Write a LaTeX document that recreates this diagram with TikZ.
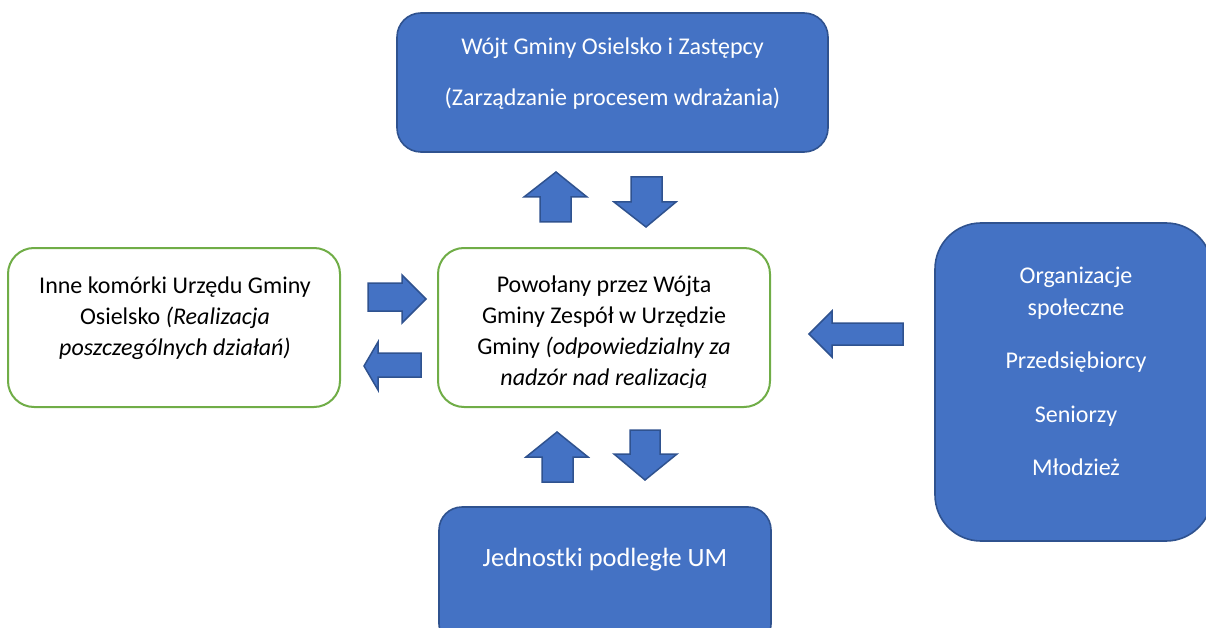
\documentclass[tikz,border=0pt]{standalone}
\usepackage{fontspec}
\setmainfont{Carlito}
\definecolor{boxblue}{HTML}{4472C4}
\definecolor{edgeblue}{HTML}{2F528F}
\definecolor{boxgreen}{HTML}{70AD47}
\begin{document}
\begin{tikzpicture}[x=1pt,y=-1pt,
  bluebox/.style={draw=edgeblue,fill=boxblue,line width=1.6pt,inner sep=0pt},
  greenbox/.style={draw=boxgreen,fill=white,line width=2pt,inner sep=0pt},
  blockarrow/.style={draw=edgeblue,fill=boxblue,line width=1.5pt,line join=miter},
  txt/.style={anchor=base,inner sep=0pt,font=\fontsize{24}{31}\selectfont},
  wtxt/.style={txt,text=white}]
\useasboundingbox (0,0) rectangle (1206,628);
\clip (0,0) rectangle (1206,628);
% boxes
\node[bluebox,rounded corners=24pt,minimum width=431pt,minimum height=139pt] (top) at (612.5,82.5) {};
\node[greenbox,rounded corners=26pt,minimum width=332pt,minimum height=159pt] (left) at (174,327.5) {};
\node[greenbox,rounded corners=26pt,minimum width=332pt,minimum height=159pt] (center) at (604,327.5) {};
\node[bluebox,rounded corners=46pt,minimum width=277pt,minimum height=318pt] (right) at (1073.5,382) {};
\node[bluebox,rounded corners=23pt,minimum width=332pt,minimum height=140pt] (bottom) at (605,577) {};
% texts
\node[wtxt] (t1) at (612.5,55) {Wójt Gminy Osielsko i Zastępcy};
\node[wtxt] (t2) at (612.5,106) {(Zarządzanie procesem wdrażania)};
\node[txt] (l1) at (175,293) {Inne komórki Urzędu Gminy};
\node[txt] (l2) at (175,324) {Osielsko \textit{(Realizacja}};
\node[txt] (l3) at (175,355) {\textit{poszczególnych działań)}};
\begin{scope}
\clip (440,250) rectangle (768,387);
\node[txt] (c1) at (604,292) {Powołany przez Wójta};
\node[txt] (c2) at (604,323) {Gminy Zespół w Urzędzie};
\node[txt] (c3) at (604,354) {Gminy \textit{(odpowiedzialny za}};
\node[txt] (c4) at (604,385) {\textit{nadzór nad realizacją}};
\end{scope}
\node[wtxt] (r1) at (1076,283) {Organizacje};
\node[wtxt] (r2) at (1076,315) {społeczne};
\node[wtxt] (r3) at (1076,368) {Przedsiębiorcy};
\node[wtxt] (r4) at (1076,422) {Seniorzy};
\node[wtxt] (r5) at (1076,475) {Młodzież};
\node[wtxt,font=\fontsize{26.4}{32}\selectfont] (b1) at (605,566) {Jednostki podległe UM};
% block arrows
\draw[blockarrow] (540,222) -- (540,197) -- (524,197) -- (556,172) -- (587,197) -- (571,197) -- (571,222) -- cycle;
\draw[blockarrow] (631,177) -- (662,177) -- (662,202) -- (676,202) -- (646,227) -- (614,202) -- (631,202) -- cycle;
\draw[blockarrow] (542,482) -- (542,457) -- (526,457) -- (557,432) -- (588,457) -- (573,457) -- (573,482) -- cycle;
\draw[blockarrow] (630,430) -- (660,430) -- (660,454) -- (677,454) -- (645,480) -- (614,454) -- (630,454) -- cycle;
\draw[blockarrow] (368,283) -- (402,283) -- (402,275) -- (426,299) -- (402,323) -- (402,311) -- (368,311) -- cycle;
\draw[blockarrow] (421,353) -- (378,353) -- (378,342) -- (364,366) -- (378,390) -- (378,377) -- (421,377) -- cycle;
\draw[blockarrow] (903,323) -- (832,323) -- (832,311) -- (809,334) -- (832,357) -- (832,345) -- (903,345) -- cycle;
\end{tikzpicture}
\end{document}
